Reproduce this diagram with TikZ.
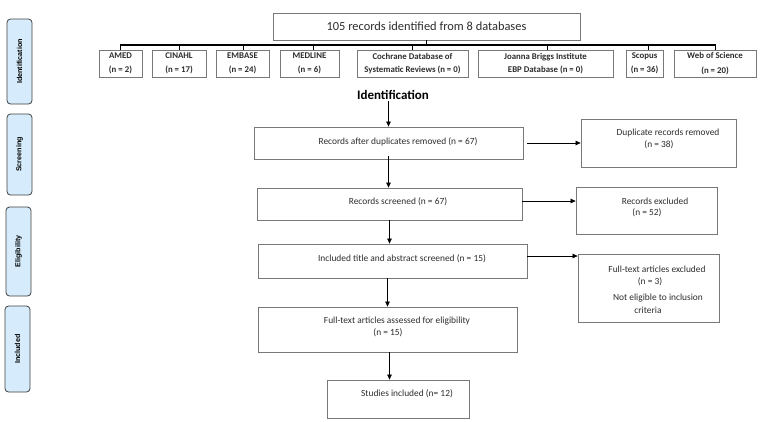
\documentclass[tikz,border=0pt]{standalone}
\usepackage{fontspec}
\setmainfont{Carlito}
\newfontfamily\arialf{Liberation Sans}
\usetikzlibrary{arrows.meta}
\definecolor{stagefill}{RGB}{214,236,252}
\definecolor{boxline}{RGB}{120,120,120}
\definecolor{txt}{RGB}{45,45,45}
\begin{document}
\begin{tikzpicture}[x=1pt,y=-1pt,
  box/.style={draw=boxline, line width=0.8pt, fill=white, inner sep=0pt},
  dbbox/.style={box, align=center, font=\bfseries\fontsize{8.8}{14.5}\selectfont, text=txt},
  dbbox2/.style={box, align=center, font=\bfseries\fontsize{8.8}{12.5}\selectfont, text=txt},
  btext/.style={inner sep=0pt, font=\fontsize{9.4}{11}\selectfont, text=txt},
  stage/.style={draw=black!75, line width=0.8pt, fill=stagefill, rounded corners=3.5pt, rotate=90, inner sep=0pt, font=\arialf\bfseries\fontsize{7.2}{8}\selectfont},
  arr/.style={-{Triangle[length=5pt,width=4.5pt]}, line width=0.6pt},
  bus/.style={line width=1.3pt},
  tick/.style={line width=0.9pt}]
\useasboundingbox (0,0) rectangle (783,421);

% stage labels
\node[stage, minimum width=85, minimum height=25] (s1) at (19.5,61.5) {Identification};
\node[stage, minimum width=81, minimum height=25] (s2) at (19.5,154.5) {Screening};
\node[stage, minimum width=89, minimum height=25] (s3) at (18.5,251.5) {Eligibility};
\node[stage, minimum width=86, minimum height=25] (s4) at (17.5,349) {Included};

% top box
\node[box, minimum width=307, minimum height=27, font=\fontsize{12.4}{14}\selectfont, text=txt] (top) at (426.5,26.5) {105 records identified from 8 databases};

% databases
\node[dbbox, minimum width=43, minimum height=27] (d1) at (120.5,63.5) {AMED\\(n = 2)};
\node[dbbox, minimum width=54, minimum height=27] (d2) at (179,63.5) {CINAHL\\(n = 17)};
\node[dbbox, minimum width=53, minimum height=27] (d3) at (242.5,63.5) {EMBASE\\(n = 24)};
\node[dbbox, minimum width=59, minimum height=27] (d4) at (309.5,63.5) {MEDLINE\\(n = 6)};
\node[dbbox2, minimum width=111, minimum height=27] (d5) at (412.5,63.5) {Cochrane Database of\\Systematic Reviews (n = 0)};
\node[dbbox2, minimum width=135, minimum height=27] (d6) at (545.5,63.5) {Joanna Briggs Institute\\EBP Database (n = 0)};
\node[dbbox, minimum width=37, minimum height=27] (d7) at (644.5,63.5) {Scopus\\(n = 36)};
\node[dbbox, minimum width=82, minimum height=27] (d8) at (715,63.5) {Web of Science\\(n = 20)};

\coordinate (busL) at (120,45);
\coordinate (busR) at (716,45);
\draw[bus] (busL) -- (busR);
\draw[tick] (top.south) -- (top.south |- busL);
\foreach \d/\x in {d1/120,d2/179,d3/243,d4/313,d5/412,d6/547,d7/648,d8/715}
  \draw[tick] (\x,45) -- (\x,50);

% identification heading
\node[inner sep=1pt, font=\bfseries\fontsize{13}{15}\selectfont] (idlab) at (393,95) {Identification};

% main boxes
\node[box, minimum width=269, minimum height=32] (b1) at (388.5,143) {};
\node[box, minimum width=265, minimum height=32] (b2) at (389.5,204) {};
\node[box, minimum width=269, minimum height=34] (b3) at (392.5,261) {};
\node[box, minimum width=259, minimum height=45] (b4) at (387.5,329.5) {};
\node[box, minimum width=142, minimum height=38] (b5) at (398,399) {};

\node[btext] (b1t) at (398,142) {Records after duplicates removed (n = 67)};
\node[btext] (b2t) at (398,202) {Records screened (n = 67)};
\node[btext] (b3t) at (402,259) {Included title and abstract screened (n = 15)};
\node[btext] (b4t) at (397,321) {Full-text articles assessed for eligibility};
\node[btext] (b4n) at (388,332.5) {(n = 15)};
\node[btext] (b5t) at (407,394) {Studies included (n= 12)};

% right boxes
\node[box, minimum width=155, minimum height=48] (r1) at (658.5,143) {};
\node[box, minimum width=141, minimum height=47] (r2) at (646.5,210.5) {};
\node[box, minimum width=141, minimum height=68] (r3) at (648.5,288) {};

\node[btext] (r1t) at (668,133) {Duplicate records removed};
\node[btext] (r1n) at (659,145) {(n = 38)};
\node[btext] (r2t) at (655,201) {Records excluded};
\node[btext] (r2n) at (647,213) {(n = 52)};
\node[btext] (r3t) at (657,269) {Full-text articles excluded};
\node[btext] (r3n) at (650,282) {(n = 3)};
\node[btext] (r3a) at (658,298) {Not eligible to inclusion};
\node[btext] (r3b) at (648,310) {criteria};

% vertical arrows
\draw[arr] (b1.north |- idlab.south) -- (b1.north);
\draw[arr] ([yshift=3]b1.south) -- (b1.south |- b2.north);
\draw[arr] (b2.south) -- (b2.south |- b3.north);
\draw[arr] (b4.north |- b3.south) -- (b4.north);
\draw[arr] ([xshift=2]b4.south) -- ([xshift=2]b4.south |- b5.north);

% side arrows
\draw[arr] ([xshift=4]b1.east) -- (b1.east -| r1.west);
\draw[arr] ([yshift=3]b2.east) -- ([yshift=3]b2.east -| r2.west);
\draw[arr] ([yshift=5]b3.east) -- ([yshift=5]b3.east -| r3.west);
\end{tikzpicture}
\end{document}
